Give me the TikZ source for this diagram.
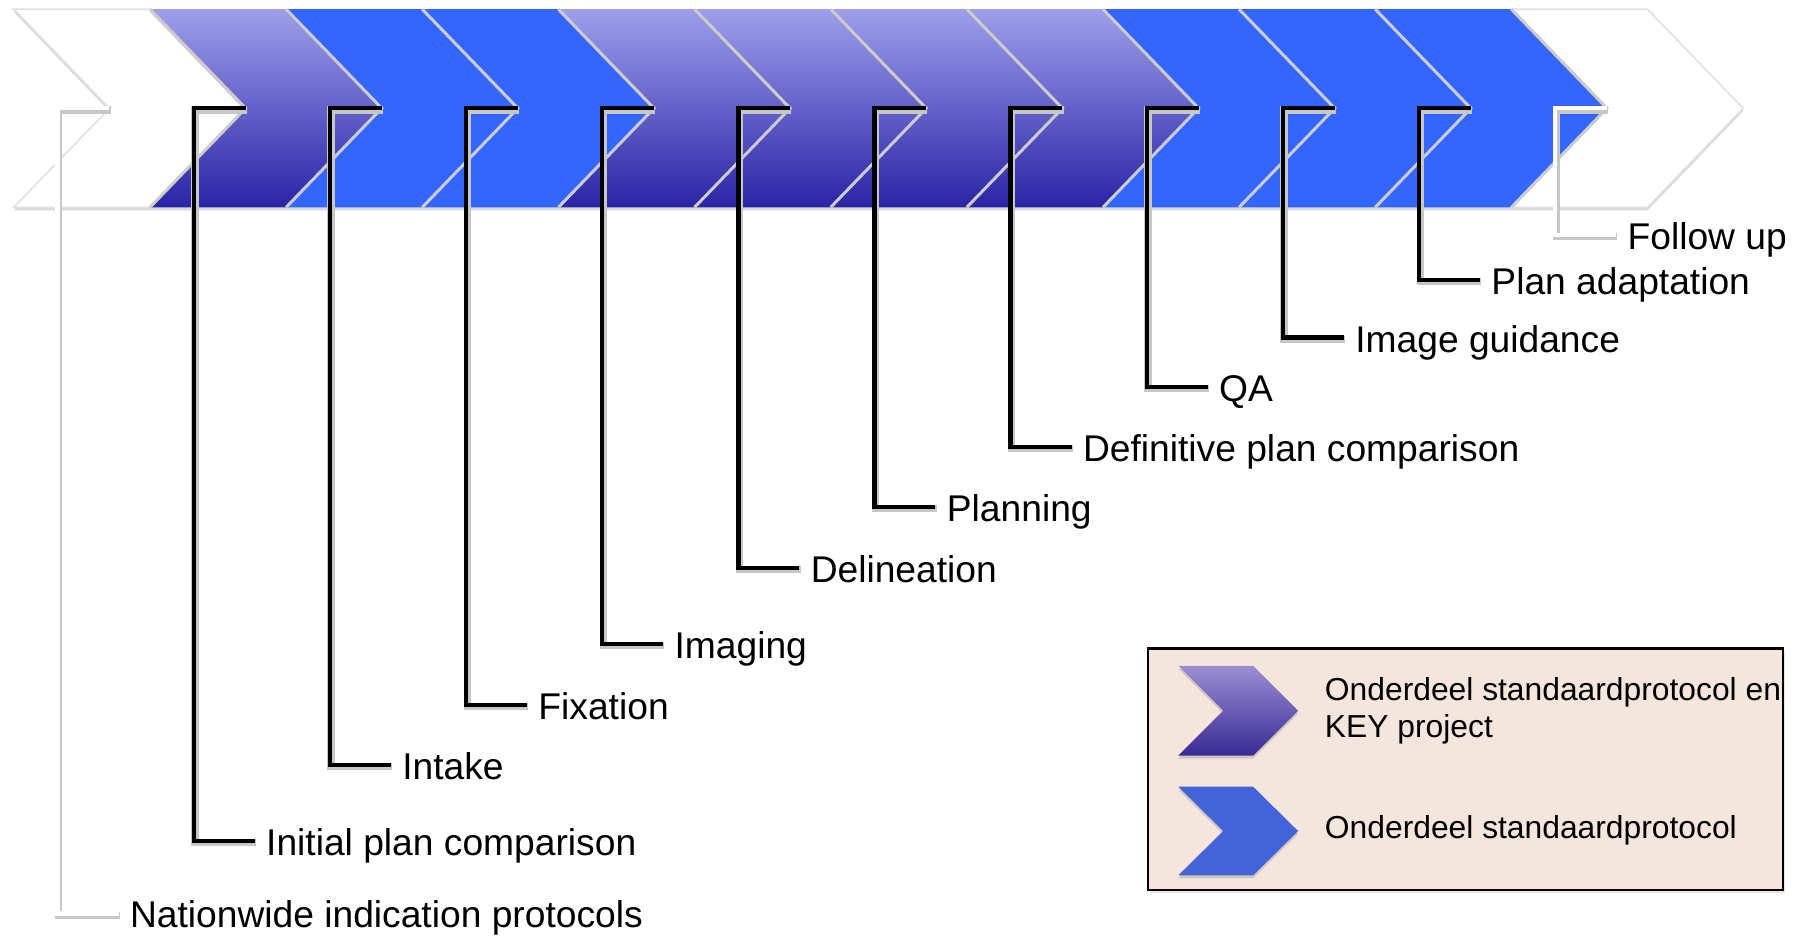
\documentclass[tikz,border=0pt]{standalone}
\usepackage{fontspec}
\setmainfont{Liberation Sans}
\usetikzlibrary{shadows}

\definecolor{purptop}{RGB}{158,158,236}
\definecolor{purpbot}{RGB}{40,36,166}
\definecolor{stageblue}{RGB}{51,102,255}
\definecolor{keytop}{RGB}{155,143,212}
\definecolor{keybot}{RGB}{56,42,148}
\definecolor{keyblue}{RGB}{67,99,216}
\definecolor{legendbg}{RGB}{244,230,220}

\begin{document}
\begin{tikzpicture}[x=0.5759pt, y=-0.5759pt,
		stage/.style={drop shadow={opacity=0.3, shadow xshift=0pt, shadow yshift=-1.5pt}},
		stwhite/.style={stage, fill=white, draw=black!12, line width=0.8pt},
		stpurple/.style={stage, top color=purptop, bottom color=purpbot},
		stblue/.style={stage, fill=stageblue},
		seam/.style={draw=black!20, line width=1.5pt},
		bracket/.style={line width=2.2pt, preaction={draw=black!22, line width=3.6pt, transform canvas={xshift=0.6pt, yshift=-0.9pt}}},
		steplabel/.style={anchor=west, inner xsep=5.5pt, text height=14.6pt, text depth=0pt, font=\fontsize{18.6}{22}\selectfont},
		keylabel/.style={anchor=west, align=left, inner sep=0pt, font=\fontsize{15.9}{18.4}\selectfont},
		keybox/.style={draw=black, line width=1.1pt, fill=legendbg, drop shadow={opacity=0.2, shadow xshift=1pt, shadow yshift=-1.5pt}},
		pics/chevron/.style={code={
			\path[#1] (0,0) -- (118.2,0) -- (201.2,86) -- (118.2,172) -- (0,172) -- (83,86) -- cycle;
			\coordinate (-top) at (0,0);
			\coordinate (-notch) at (83,86);
			\coordinate (-bot) at (0,172);
		}},
	]
		\useasboundingbox (0,0) rectangle (1568,813);

		\pic (c1) at (12,8) {chevron=stwhite};
		\pic (c2) at (130.2,8) {chevron=stpurple};
		\pic (c3) at (248.4,8) {chevron=stblue};
		\pic (c4) at (366.6,8) {chevron=stblue};
		\pic (c5) at (484.8,8) {chevron=stpurple};
		\pic (c6) at (603,8) {chevron=stpurple};
		\pic (c7) at (721.2,8) {chevron=stpurple};
		\pic (c8) at (839.4,8) {chevron=stpurple};
		\pic (c9) at (957.6,8) {chevron=stblue};
		\pic (c10) at (1075.8,8) {chevron=stblue};
		\pic (c11) at (1194,8) {chevron=stblue};
		\pic (c12) at (1312.2,8) {chevron=stwhite};

		\draw[seam] (c2-top) -- (c2-notch) -- (c2-bot);
		\draw[seam] (c3-top) -- (c3-notch) -- (c3-bot);
		\draw[seam] (c4-top) -- (c4-notch) -- (c4-bot);
		\draw[seam] (c5-top) -- (c5-notch) -- (c5-bot);
		\draw[seam] (c6-top) -- (c6-notch) -- (c6-bot);
		\draw[seam] (c7-top) -- (c7-notch) -- (c7-bot);
		\draw[seam] (c8-top) -- (c8-notch) -- (c8-bot);
		\draw[seam] (c9-top) -- (c9-notch) -- (c9-bot);
		\draw[seam] (c10-top) -- (c10-notch) -- (c10-bot);
		\draw[seam] (c11-top) -- (c11-notch) -- (c11-bot);
		\draw[seam] (c12-top) -- (c12-notch) -- (c12-bot);

		\node[steplabel] (l1) at (103,793) {Nationwide indication protocols};
		\node[steplabel] (l2) at (221.2,730) {Initial plan comparison};
		\node[steplabel] (l3) at (339.4,664) {Intake};
		\node[steplabel] (l4) at (457.6,612) {Fixation};
		\node[steplabel] (l5) at (575.8,559) {Imaging};
		\node[steplabel] (l6) at (694,493) {Delineation};
		\node[steplabel] (l7) at (812.2,440) {Planning};
		\node[steplabel] (l8) at (930.4,388) {Definitive plan comparison};
		\node[steplabel] (l9) at (1048.6,336) {QA};
		\node[steplabel] (l10) at (1166.8,293) {Image guidance};
		\node[steplabel] (l11) at (1285,243) {Plan adaptation};
		\node[steplabel] (l12) at (1403.2,204) {Follow up};

		\draw[bracket, white] (c1-notch) -- ++(-45,0) |- (l1.west);
		\draw[bracket] (c2-notch) -- ++(-45,0) |- (l2.west);
		\draw[bracket] (c3-notch) -- ++(-45,0) |- (l3.west);
		\draw[bracket] (c4-notch) -- ++(-45,0) |- (l4.west);
		\draw[bracket] (c5-notch) -- ++(-45,0) |- (l5.west);
		\draw[bracket] (c6-notch) -- ++(-45,0) |- (l6.west);
		\draw[bracket] (c7-notch) -- ++(-45,0) |- (l7.west);
		\draw[bracket] (c8-notch) -- ++(-45,0) |- (l8.west);
		\draw[bracket] (c9-notch) -- ++(-45,0) |- (l9.west);
		\draw[bracket] (c10-notch) -- ++(-45,0) |- (l10.west);
		\draw[bracket] (c11-notch) -- ++(-45,0) |- (l11.west);
		\draw[bracket, white] (c12-notch) -- ++(-45,0) |- (l12.west);

		\draw[keybox] (997,563) rectangle (1548,773);
		\path[stage, top color=keytop, bottom color=keybot] (1023,578) -- (1088,578) -- (1127,617) -- (1088,656) -- (1023,656) -- (1062,617) -- cycle;
		\path[stage, fill=keyblue] (1023,683) -- (1088,683) -- (1127,721.5) -- (1088,760) -- (1023,760) -- (1062,721.5) -- cycle;
		\node[keylabel] (k1) at (1150,617) {Onderdeel standaardprotocol en\\KEY project};
		\node[keylabel] (k2) at (1150,721) {Onderdeel standaardprotocol};
	\end{tikzpicture}
\end{document}
